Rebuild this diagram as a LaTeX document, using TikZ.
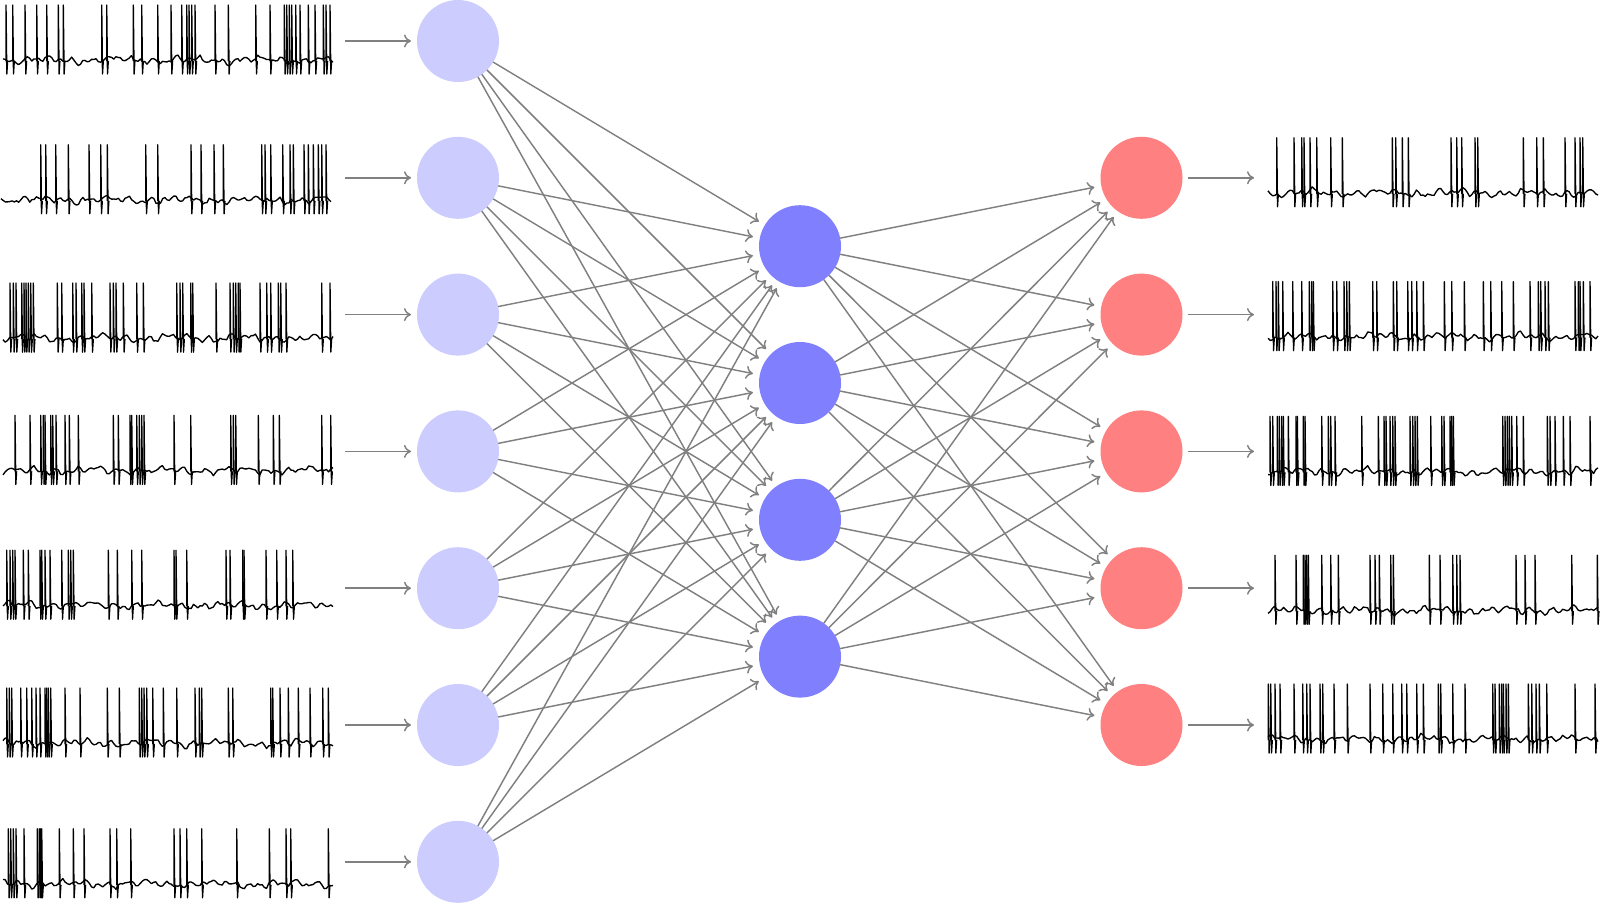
\documentclass[tikz,border=0pt]{standalone}
\usetikzlibrary{arrows.meta}
\tikzset{
  neuron/.style={circle, minimum size=82pt, inner sep=0pt, outer sep=0pt, draw=none},
  inneuron/.style={neuron, fill=blue!20},
  hidneuron/.style={neuron, fill=blue!50},
  outneuron/.style={neuron, fill=red!50},
  trainbox/.style={rectangle, minimum width=330pt, minimum height=70pt, inner sep=0pt, outer sep=0pt, draw=none},
  conn/.style={draw=gray, line width=1.45pt, -{To[length=7pt,width=13pt]}, shorten >=7pt},
  trace/.style={black, line width=1.35pt, line join=round},
}
% #1 x shift, #2 y of trace centre, #3 seed, #4 baseline start, #5 spike list
\newcommand\spiketrain[5]{%
  \begin{scope}[shift={(#1,#2)}]
    \pgfmathsetseed{#3}
    \draw[trace] plot[domain=#4:#4+330, samples=150]
      (\x, {20+1.8*sin(\x*31+#3*50)+1.6*sin(\x*17+#3*80)+1.6*sin(\x*5+#3*37)+1.3*rand});
    \foreach \s in {#5} \draw[trace] (\s,21) -- (\s,-35) -- (\s+0.8,34) -- (\s+1.6,21);
  \end{scope}}
\begin{document}
\begin{tikzpicture}[x=1pt,y=-1pt]
\fill[white] (0,0) rectangle (1600,903);
\useasboundingbox (0,0) rectangle (1600,903);

% neurons
\foreach \i in {1,...,7} \node[inneuron] (in\i) at (458,{41+136.8*(\i-1)}) {};
\foreach \j in {1,...,4} \node[hidneuron] (hid\j) at (800,{246.2+136.8*(\j-1)}) {};
\foreach \k in {1,...,5} \node[outneuron] (out\k) at (1141.5,{177.8+136.8*(\k-1)}) {};

% spike-train holders
\foreach \i in {1,...,7} \node[trainbox] (tl\i) at (168,{41+136.8*(\i-1)}) {};
\foreach \k in {1,...,5} \node[trainbox] (tr\k) at (1433,{177.8+136.8*(\k-1)}) {};

% input traces
\spiketrain{0}{40}{11}{3}{6,12.7,25,36.7,46.7,58.3,63.3,101.7,106.7,133.3,141.7,157.7,171,181.7,186.7,189,191.7,195,215,228.3,255.7,270,284.3,286.7,289.3,291.7,295.7,300,308.3,315,323.3,326,330}
\spiketrain{0}{179.8}{12}{1}{40.7,45.7,55.7,68.3,89,100.7,107.3,145.7,157.7,191,201,214,223.3,261.7,265,270.7,282.7,290,293.3,304,308.3,313.3,318.3,321.7,326}
\spiketrain{0}{318.1}{13}{3}{10,13.3,16,21.7,24,26,28.3,30.7,33.3,57.3,61.7,72.7,76,81.7,84,91.7,110,113.3,116,123.3,136.7,143.3,176.7,180,182.7,190.7,192.7,216,230,233.3,235.7,238.3,240,260,266.7,270.7,278.3,280.7,286,321.7,330}
\spiketrain{0}{450.4}{14}{3}{15,30,40.7,43.3,45,50.7,52.7,56,65,69.3,78.3,113.3,118.3,130,131.7,136.7,139.3,141.7,144,174,190.7,230.7,233.3,235.7,258.3,273.3,279.3,321.7,330.7}
\spiketrain{0}{585.2}{15}{3}{6.7,10,12.7,15,23.3,28.3,40,41.7,45,50,61.7,68.3,70.7,73.3,108.3,117.3,131.7,141.7,174,176,186.7,226,230,242.7,244,266,276.7,286,292.7}
\spiketrain{0}{723}{16}{3}{6.7,9.3,11.7,20.7,26.7,31.7,36,40,45,46.7,48.3,50.7,65,80,107.3,119.3,139.3,141.7,144,146.7,152.7,163.3,176.7,195,199.3,201.7,228.3,232.7,270.7,272.7,280,288.3,298.3,310,322.7,328.3}
\spiketrain{0}{863.8}{17}{3}{8.3,10.7,13.3,16,24,37.3,39.3,40.7,41.7,59.3,73.3,84,110,116.7,130.7,174,180,186.7,201.7,236.7,269.3,286,290.7,328.3}

% output traces
\spiketrain{1268}{172.8}{21}{0}{8.7,26,33.7,36,42,48.7,62.7,74.3,124.3,127.7,134.3,140.3,183,188.7,193.7,207,209.7,255.3,268.7,275.3,297,307,312,314.7}
\spiketrain{1268}{316.6}{22}{0}{4.7,8,10.3,14.7,24.7,33.7,41.3,43.7,45.3,64.7,68.7,76,78.7,81.3,104.7,108.7,125.3,128.7,139.7,143.7,148.7,155.3,176.3,183.7,196.3,215.3,222.7,233.7,245.3,262,270.3,272.7,277,280.3,307,310.3,312,315.3,322}
\spiketrain{1268}{451.4}{23}{0}{2,4.7,9.3,11.3,13.7,15.3,20.3,28,29.3,35.3,37,53.7,60.3,62.7,67,93.7,110.3,116,118,122,124.7,127,142,144.7,147,149.3,162.7,173.7,176,182,183.7,185.3,234.7,237,239.3,241.3,243.7,248.7,255.3,279.3,282,287,295.3,302,322}
\spiketrain{1268}{590.2}{24}{0}{7,28,35.3,37,38.7,40.3,53.7,62.7,70.3,102,107,111.3,122.7,125.3,161.3,172,184.7,188.7,192,248,257,267,303.7,329.3}
\spiketrain{1268}{719}{25}{0}{0.3,2.7,7,12,26,34.7,38.7,42,52,54.7,66,79.3,102,114.7,124.7,133.7,138.7,148.7,155.3,170.3,172.7,184.7,197,224.7,227,231.3,233.7,235.3,238,240.3,260.3,263.7,268,271.3,278.7,307,327}

% trace -> input neuron
\foreach \i in {1,...,7} \draw[conn, shorten <=12pt, shorten >=6pt] (tl\i) -- (in\i);
% output neuron -> trace
\foreach \k in {1,...,5} \draw[conn, shorten <=5pt, shorten >=14pt] (out\k) -- (tr\k);

% weights
\foreach \i in {1,...,7} \foreach \j in {1,...,4} \draw[conn] (in\i) -- (hid\j);
\foreach \j in {1,...,4} \foreach \k in {1,...,5} \draw[conn] (hid\j) -- (out\k);
\end{tikzpicture}
\end{document}
